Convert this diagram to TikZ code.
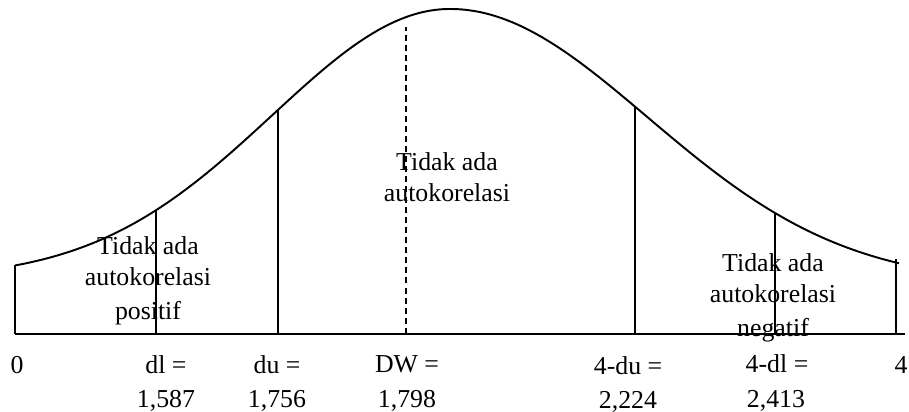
\documentclass[tikz,border=0pt]{standalone}
\usepackage{fontspec}
\setmainfont{Liberation Serif}
\usepackage{tikz}
\usetikzlibrary{positioning}
\tikzset{
  declare function={bellL(\x)=279-270*exp(-((\x-450)/100)^2/6.32);
                    bellR(\x)=284-275*exp(-((\x-450)/100)^2/7.8);},
  curve/.style   = {line width=0.9pt, line join=round},
  limit/.style   = {line width=0.9pt},
  dwline/.style  = {line width=0.9pt, dash pattern=on 2.8pt off 1.9pt},
  zone/.style    = {align=center, inner sep=0pt, font=\fontsize{12}{14.4}\selectfont},
  val/.style     = {anchor=base, inner sep=0pt, font=\fontsize{12}{14.4}\selectfont},
}

\begin{document}
\begin{tikzpicture}[x=0.465pt, y=-0.465pt]
\useasboundingbox (0,0) rectangle (909,412);

% axis and bell curve
\draw[limit] (15,334) -- (905,334);
\draw[curve] plot[domain=15:450, samples=80] (\x,{bellL(\x)});
\draw[curve] plot[domain=450:899, samples=80] (\x,{bellR(\x)});

% limits
\draw[limit] (15,334) -- (15,{bellL(15)});
\draw[limit] (156,334) -- (156,{bellL(156)});
\draw[limit] (278,334) -- (278,{bellL(278)});
\draw[dwline] (406,334) -- (406,27);
\draw[limit] (635,334) -- (635,{bellR(635)});
\draw[limit] (775,334) -- (775,{bellR(775)});
\draw[limit] (896,334) -- (896,{bellR(896)-4});

% zones
\node[zone] (pos) at (148,281) {Tidak ada\\autokorelasi\\[1.4pt]positif};
\node[zone] (none) at (447,177) {Tidak ada\\autokorelasi};
\node[zone] (neg) at (773,298) {Tidak ada\\autokorelasi\\[1.4pt]negatif};

% values on the axis
\node[val] (zero) at (17,373) {0};
\node[val] (dlA) at (166,373) {dl =};
\node[val] (dlB) at (166,407) {1,587};
\node[val] (duA) at (277,373) {du =};
\node[val] (duB) at (277,407) {1,756};
\node[val] (dwA) at (407,372) {DW =};
\node[val] (dwB) at (407,407) {1,798};
\node[val] (fduA) at (628,375) {4-du =};
\node[val] (fduB) at (628,408) {2,224};
\node[val] (fdlA) at (777,372) {4-dl =};
\node[val] (fdlB) at (776,407) {2,413};
\node[val] (four) at (901,373) {4};

\end{tikzpicture}
\end{document}
